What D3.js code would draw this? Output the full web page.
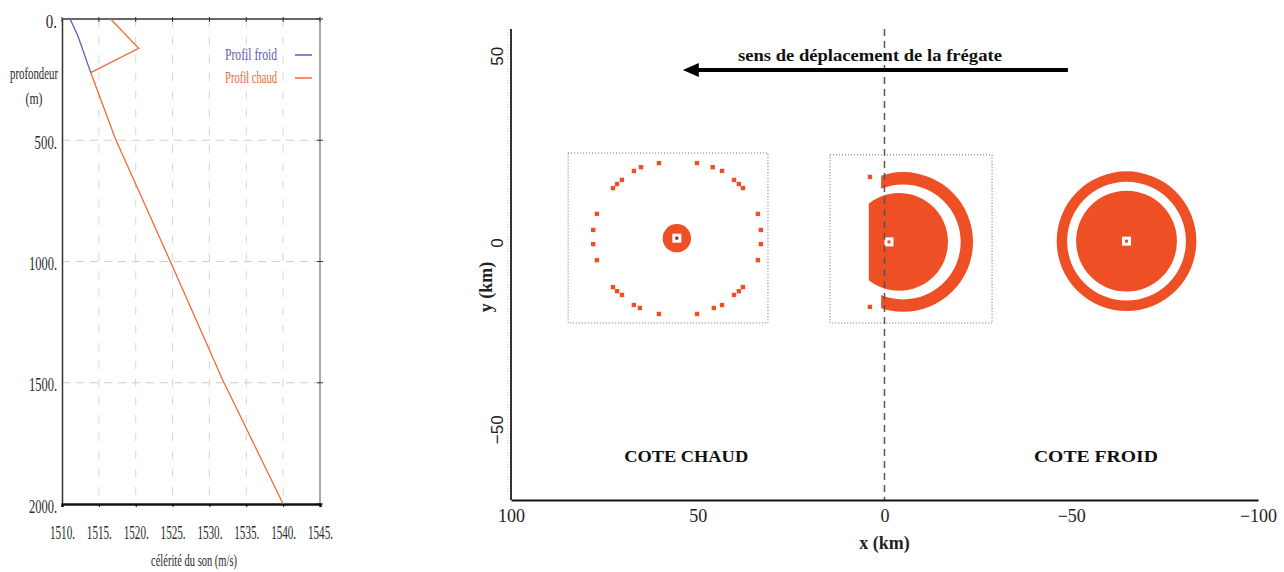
<!DOCTYPE html>
<html>
<head>
<meta charset="utf-8">
<script src="https://cdn.jsdelivr.net/npm/d3@7"></script>
<style>
  body { margin: 0; background: #fff; }
  svg { display: block; }
</style>
</head>
<body>
<svg id="chart" width="1284" height="572"></svg>
<script>
// ---- left chart : sound speed profiles ----
const speedTicks = [1510, 1515, 1520, 1525, 1530, 1535, 1540, 1545];
const depthTicks = [0, 500, 1000, 1500, 2000];
const froidSpeed = [1511.1, 1512.2, 1513.9];
const froidDepth = [0, 73, 221];
const chaudSpeed = [1516.6, 1520.4, 1513.9, 1517.2, 1524.7, 1531.8, 1540.0];
const chaudDepth = [0, 121, 221, 491, 1000, 1489, 2000];

// ---- right chart : detection zones (km) ----
const xKmTicks = [100, 50, 0, -50, -100];
const yKmTicks = [50, 0, -50];
const boxX0 = [84.7, 14.6];
const boxX1 = [31.2, -28.8];
const boxY0 = [24.1, 23.6];
const boxY1 = [-21.4, -21.4];
const srcX = [55.6, -1.2, -64.8];
const srcY = [1.3, 0.3, 0.5];
// scattered cells of the warm side ring
const dotX = [60.4, 50.2, 67.1, 65.2, 46.0, 43.5, 72.7, 71.6, 70.3, 40.3, 39.0, 37.9,
  77.0, 78.0, 78.0, 77.0, 33.9, 33.1, 33.1, 33.9, 72.7, 71.6, 70.3, 67.1, 65.5,
  60.4, 50.2, 45.7, 43.5, 40.3, 39.0, 37.9];
const dotY = [21.4, 21.4, 19.3, 20.3, 20.3, 19.3, 14.7, 15.8, 16.9, 16.9, 15.8, 14.7,
  7.8, 3.5, -0.3, -4.6, 7.8, 3.5, -0.3, -4.6, -11.8, -12.9, -13.9, -16.6, -17.4,
  -19.0, -19.0, -17.4, -16.6, -13.9, -12.9, -11.8];
const warmBlobR = 3.8;
// middle (front) zone
const midDisk = { x: -3.9, y: 0.3, r: 13.1, cut: 4.2 };
const midRing = { x: -5.0, y: 0.3, r0: 15.4, r1: 18.7, cut: 0.9 };
const midStrayX = [3.9, 3.9];
const midStrayY = [17.7, -17.1];
// cold side zone
const coldDiskR = 13.5;
const coldRing = [15.9, 18.7];
const arrowFrom = -49.1, arrowTo = 54, arrowY = 46.3;

const FILL = "#ee4f24";
const serif = "'Liberation Serif', 'DejaVu Serif', serif";

const svg = d3.select("#chart");
svg.append("rect").attr("width", 1284).attr("height", 572).attr("fill", "#fff");

// ================= left chart =================
const xL = d3.scaleLinear().domain([1510, 1545]).range([62, 320]);
const yL = d3.scaleLinear().domain([0, 2000]).range([19, 504]);
const gl = svg.append("g");

gl.selectAll(".vgrid")
  .data(speedTicks.slice(1, -1))
  .join("line")
  .attr("x1", d => xL(d)).attr("x2", d => xL(d))
  .attr("y1", yL(0)).attr("y2", yL(2000))
  .attr("stroke", "#d6d6d6").attr("stroke-dasharray", "8,10");

gl.selectAll(".hgrid")
  .data(depthTicks.slice(1, -1))
  .join("line")
  .attr("x1", xL(1510)).attr("x2", xL(1545))
  .attr("y1", d => yL(d)).attr("y2", d => yL(d))
  .attr("stroke", "#dcc8c8").attr("stroke-dasharray", "8,6");

// frame
gl.append("line").attr("x1", xL(1510)).attr("x2", xL(1545)).attr("y1", yL(0)).attr("y2", yL(0))
  .attr("stroke", "#333").attr("stroke-width", 1.5);
gl.append("line").attr("x1", xL(1545)).attr("x2", xL(1545)).attr("y1", yL(0)).attr("y2", yL(2000))
  .attr("stroke", "#555").attr("stroke-width", 1);
gl.selectAll(".rtick").data(depthTicks).join("line")
  .attr("x1", xL(1545) - 3).attr("x2", xL(1545) + 3)
  .attr("y1", d => yL(d)).attr("y2", d => yL(d)).attr("stroke", "#333");
gl.selectAll(".ttick").data(speedTicks).join("line")
  .attr("x1", d => xL(d)).attr("x2", d => xL(d))
  .attr("y1", yL(0) - 2).attr("y2", yL(0) + 3).attr("stroke", "#333");

const xAxisL = d3.axisBottom(xL).tickValues(speedTicks).tickSize(3).tickPadding(19)
  .tickFormat(d => d + ".");
gl.append("g").attr("transform", `translate(0,${yL(2000)})`).call(xAxisL)
  .call(g => g.select(".domain").attr("stroke", "#111").attr("stroke-width", 2.5))
  .call(g => g.selectAll("text").attr("font-family", serif).attr("font-size", 18)
    .attr("fill", "#2a2a2a").attr("textLength", 25).attr("lengthAdjust", "spacingAndGlyphs"));

const yAxisL = d3.axisLeft(yL).tickValues(depthTicks).tickSize(0).tickPadding(5)
  .tickFormat(d => d + ".");
gl.append("g").attr("transform", `translate(${xL(1510)},0)`).call(yAxisL)
  .call(g => g.select(".domain").attr("stroke", "#333").attr("stroke-width", 1.5))
  .call(g => g.selectAll("text").attr("font-family", serif).attr("font-size", 18)
    .attr("fill", "#2a2a2a").attr("dy", "0.45em")
    .attr("textLength", d => (String(d).length + 1) * 5.6).attr("lengthAdjust", "spacingAndGlyphs"));

gl.append("text").attr("x", 34).attr("y", 79).attr("text-anchor", "middle")
  .attr("font-family", serif).attr("font-size", 17).attr("fill", "#2a2a2a")
  .attr("textLength", 48).attr("lengthAdjust", "spacingAndGlyphs").text("profondeur");
gl.append("text").attr("x", 34).attr("y", 104).attr("text-anchor", "middle")
  .attr("font-family", serif).attr("font-size", 17).attr("fill", "#2a2a2a")
  .attr("textLength", 17).attr("lengthAdjust", "spacingAndGlyphs").text("(m)");
gl.append("text").attr("x", 194).attr("y", 566).attr("text-anchor", "middle")
  .attr("font-family", serif).attr("font-size", 17).attr("fill", "#2a2a2a")
  .attr("textLength", 86).attr("lengthAdjust", "spacingAndGlyphs").text("célérité du son (m/s)");

const profLine = d3.line().x(d => xL(d[0])).y(d => yL(d[1]));
gl.append("path").datum(d3.zip(chaudSpeed, chaudDepth)).attr("d", profLine)
  .attr("fill", "none").attr("stroke", "#f26a3c").attr("stroke-width", 1.3);
gl.append("path").datum(d3.zip(froidSpeed, froidDepth)).attr("d", profLine)
  .attr("fill", "none").attr("stroke", "#5d5db5").attr("stroke-width", 1.3);

const legend = [
  { label: "Profil froid", color: "#5d5db5", y: 55 },
  { label: "Profil chaud", color: "#f26a3c", y: 78 }
];
legend.forEach(l => {
  gl.append("text").attr("x", 225).attr("y", l.y + 5).attr("font-family", serif)
    .attr("font-size", 16).attr("fill", l.color)
    .attr("textLength", 52).attr("lengthAdjust", "spacingAndGlyphs").text(l.label);
  gl.append("line").attr("x1", 295).attr("x2", 312).attr("y1", l.y).attr("y2", l.y)
    .attr("stroke", l.color).attr("stroke-width", 1.5);
});

// ================= right chart =================
const xR = d3.scaleLinear().domain([100, -100]).range([511, 1258]);
const yR = d3.scaleLinear().domain([-68.8, 57.3]).range([500, 29]);
const kx = Math.abs(xR(1) - xR(0));
const gr = svg.append("g");

// dotted boxes
gr.selectAll(".box").data(d3.range(boxX0.length)).join("rect")
  .attr("x", i => xR(boxX0[i])).attr("y", i => yR(boxY0[i]))
  .attr("width", i => xR(boxX1[i]) - xR(boxX0[i]))
  .attr("height", i => yR(boxY1[i]) - yR(boxY0[i]))
  .attr("fill", "none").attr("stroke", "#666").attr("stroke-dasharray", "1,2");

// warm side: blob + ring of cells
gr.append("circle").attr("cx", xR(srcX[0])).attr("cy", yR(srcY[0]))
  .attr("r", warmBlobR * kx).attr("fill", FILL);
gr.selectAll(".dot").data(d3.zip(dotX, dotY)).join("rect")
  .attr("x", d => xR(d[0]) - 2.2).attr("y", d => yR(d[1]) - 2.2)
  .attr("width", 4.4).attr("height", 4.4).attr("fill", FILL);

// front zone
const defs = svg.append("defs");
defs.append("clipPath").attr("id", "cutDisk").append("rect")
  .attr("x", xR(midDisk.cut)).attr("y", 0).attr("width", 200).attr("height", 572);
defs.append("clipPath").attr("id", "cutRing").append("rect")
  .attr("x", xR(midRing.cut)).attr("y", 0).attr("width", 200).attr("height", 572);
gr.append("circle").attr("cx", xR(midDisk.x)).attr("cy", yR(midDisk.y))
  .attr("r", midDisk.r * kx).attr("fill", FILL).attr("clip-path", "url(#cutDisk)");
const ringArc = d3.arc().startAngle(0).endAngle(2 * Math.PI);
gr.append("g").attr("clip-path", "url(#cutRing)")
  .append("path")
  .attr("transform", `translate(${xR(midRing.x)},${yR(midRing.y)})`)
  .attr("d", ringArc({ innerRadius: midRing.r0 * kx, outerRadius: midRing.r1 * kx }))
  .attr("fill", FILL);
gr.selectAll(".stray").data(d3.zip(midStrayX, midStrayY)).join("rect")
  .attr("x", d => xR(d[0]) - 2.2).attr("y", d => yR(d[1]) - 2.2)
  .attr("width", 4.4).attr("height", 4.4).attr("fill", FILL);

// cold side zone
gr.append("circle").attr("cx", xR(srcX[2])).attr("cy", yR(srcY[2]))
  .attr("r", coldDiskR * kx).attr("fill", FILL);
gr.append("path")
  .attr("transform", `translate(${xR(srcX[2])},${yR(srcY[2])})`)
  .attr("d", ringArc({ innerRadius: coldRing[0] * kx, outerRadius: coldRing[1] * kx }))
  .attr("fill", FILL);

// source markers
srcX.forEach((sx, i) => {
  gr.append("rect").attr("x", xR(sx) - 4.5).attr("y", yR(srcY[i]) - 4.5)
    .attr("width", 9).attr("height", 9).attr("fill", "#fff");
  gr.append("rect").attr("x", xR(sx) - 1.5).attr("y", yR(srcY[i]) - 1.5)
    .attr("width", 3).attr("height", 3).attr("fill", i === 0 ? "#7a2a18" : FILL);
});

// front line x = 0
gr.append("line").attr("x1", xR(0)).attr("x2", xR(0)).attr("y1", yR(57.3)).attr("y2", yR(-68.8))
  .attr("stroke", "#555").attr("stroke-width", 1.5).attr("stroke-dasharray", "7,5");

// axes
gr.append("line").attr("x1", xR(100) - 3).attr("x2", xR(100) - 3)
  .attr("y1", yR(57.3)).attr("y2", yR(-68.8))
  .attr("stroke", "#e6c6cc").attr("stroke-dasharray", "1,2");
gr.append("line").attr("x1", xR(100)).attr("x2", xR(100)).attr("y1", yR(57.3)).attr("y2", yR(-68.8))
  .attr("stroke", "#333").attr("stroke-width", 2);
const xAxisR = d3.axisBottom(xR).tickValues(xKmTicks).tickSize(0).tickPadding(9);
gr.append("g").attr("transform", `translate(0,${yR(-68.8)})`).call(xAxisR)
  .call(g => g.select(".domain").attr("stroke", "#111").attr("stroke-width", 2))
  .call(g => g.selectAll("text").attr("font-family", serif).attr("font-size", 18).attr("fill", "#222"));

gr.selectAll(".ylab").data(yKmTicks).join("text")
  .attr("transform", d => `translate(497,${yR(d)}) rotate(-90)`)
  .attr("text-anchor", "middle").attr("dy", "0.35em")
  .attr("font-family", "'Liberation Sans', Arial, sans-serif").attr("font-size", 17).attr("fill", "#222")
  .text(d3.format("d"));

gr.append("text").attr("x", xR(0)).attr("y", 549).attr("text-anchor", "middle")
  .attr("font-family", serif).attr("font-weight", "bold").attr("font-size", 18).attr("fill", "#222")
  .text("x (km)");
gr.append("text").attr("transform", "translate(492,287) rotate(-90)").attr("text-anchor", "middle")
  .attr("font-family", serif).attr("font-weight", "bold").attr("font-size", 18).attr("fill", "#222")
  .text("y (km)");

// arrow
const ay = yR(arrowY);
gr.append("line").attr("x1", xR(arrowFrom)).attr("x2", xR(arrowTo) + 12)
  .attr("y1", ay).attr("y2", ay).attr("stroke", "#000").attr("stroke-width", 4);
gr.append("path")
  .attr("d", `M${xR(arrowTo)},${ay} l16,-7 l0,14 z`).attr("fill", "#000");
gr.append("text").attr("x", xR(3.9)).attr("y", yR(50.3)).attr("dy", "0.35em")
  .attr("text-anchor", "middle").attr("font-family", serif).attr("font-weight", "bold")
  .attr("font-size", 17).attr("fill", "#111")
  .attr("textLength", 264).attr("lengthAdjust", "spacingAndGlyphs")
  .text("sens de déplacement de la frégate");

const sides = [
  { label: "COTE CHAUD", x: 53.1 },
  { label: "COTE FROID", x: -56.6 }
];
sides.forEach(s => {
  gr.append("text").attr("x", xR(s.x)).attr("y", yR(-57)).attr("dy", "0.35em")
    .attr("text-anchor", "middle").attr("font-family", serif).attr("font-weight", "bold")
    .attr("font-size", 16).attr("fill", "#111")
    .attr("textLength", 124).attr("lengthAdjust", "spacingAndGlyphs")
    .text(s.label);
});
</script>
</body>
</html>
